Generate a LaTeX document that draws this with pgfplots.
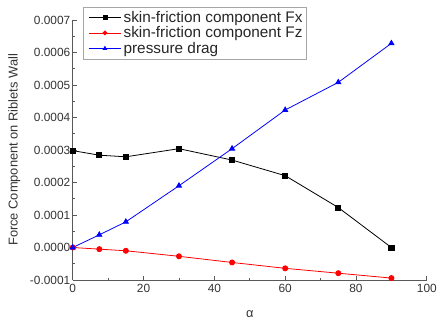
\documentclass[border=0pt]{standalone}
\usepackage{pgfplots}
\pgfplotsset{compat=1.18}
\usepackage{fontspec}
\setmainfont{Liberation Sans}
\begin{document}
\begin{tikzpicture}
\begin{axis}[
  scale only axis,
  width=358pt, height=263pt,
  xmin=0, xmax=100, ymin=-0.0001, ymax=0.0007,
  axis x line*=bottom, axis y line*=left,
  axis line style={gray!70!black, thick},
  xtick={0,20,40,60,80,100},
  ytick={-0.0001,0,0.0001,0.0002,0.0003,0.0004,0.0005,0.0006,0.0007},
  minor x tick num=1, minor y tick num=1,
  tick align=inside,
  major tick length=4pt, minor tick length=2.5pt,
  tick style={gray!70!black, thick},
  scaled y ticks=false,
  /pgf/number format/assume math mode=true,
  yticklabel style={/pgf/number format/fixed, /pgf/number format/precision=4, /pgf/number format/fixed zerofill, xshift=1pt},
  xticklabel style={yshift=-1pt},
  ticklabel style={font=\fontsize{12}{14}\selectfont, text=black!80},
  xlabel={α}, ylabel={Force Component on Riblets Wall},
  label style={font=\fontsize{13}{15}\selectfont, text=black!80},
  xlabel style={yshift=-11pt, font=\fontsize{13}{15}\selectfont},
  ylabel style={yshift=3pt},
  legend style={at={(0.028,1.05)}, anchor=north west, draw=gray!70, row sep=-1pt, inner sep=2pt,
    nodes={font=\fontsize{15.5}{17}\selectfont, text=black!85}},
  legend image code/.code={\path (-0.12cm,0); \draw[mark repeat=2,mark phase=2, mark size=2pt] plot coordinates {(0cm,0cm) (0.58cm,0cm) (1.16cm,0cm)};},
  legend cell align=left,
  clip=false,
]
\addplot[black, thick, mark=square*, mark size=2.6pt] coordinates {
(0,0.000298) (7.5,0.000284) (15,0.000279) (30,0.000304) (45,0.000269) (60,0.000221) (75,0.000123) (90,0.0000)};
\addlegendentry{skin-friction component Fx}
\addplot[red, thick, mark=*, mark size=2.6pt] coordinates {
(0,0.0) (7.5,-0.000005) (15,-0.000010) (30,-0.000027) (45,-0.000046) (60,-0.000064) (75,-0.000079) (90,-0.000094)};
\addlegendentry{skin-friction component Fz}
\addplot[blue, thick, mark=triangle*, mark size=3pt] coordinates {
(0,0.0) (7.5,0.000039) (15,0.000079) (30,0.000190) (45,0.000304) (60,0.000423) (75,0.000508) (90,0.000628)};
\addlegendentry{pressure drag}
\end{axis}
\path ([xshift=-5pt,yshift=7pt]current bounding box.north west) rectangle (current bounding box.south east);
\end{tikzpicture}
\end{document}
